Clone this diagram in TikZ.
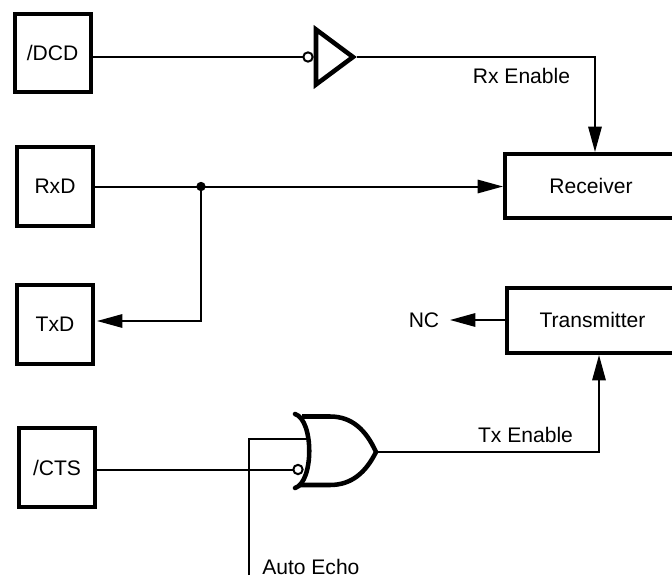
\documentclass[tikz,border=0pt]{standalone}
\usepackage{fontspec}
\setmainfont{Liberation Sans}
\usetikzlibrary{arrows.meta,calc}
\tikzset{
  x=0.75pt,y=-0.75pt,
  blockbox/.style={draw=black,line width=3pt,fill=white,inner sep=0pt,outer sep=0pt,font=\fontsize{15.8}{18}\selectfont,minimum width=57pt,minimum height=59pt},
  openbox/.style={draw=black,line width=3pt},
  wire/.style={draw=black,line width=1.5pt},
  arrowwire/.style={wire,-{Triangle[length=19pt,width=10pt,sep=0pt]}},
  gateline/.style={draw=black,line width=3.4pt},
  bubble/.style={circle,draw=black,line width=1.5pt,fill=white,inner sep=0pt,minimum size=7pt,outer sep=0pt},
  lbl/.style={font=\fontsize{15.8}{18}\selectfont,inner sep=0pt},
  junction/.style={circle,fill=black,inner sep=0pt,minimum size=7pt}
}
\begin{document}
\begin{tikzpicture}
\useasboundingbox (0,0) rectangle (672,578);
% blocks
\node[blockbox] (dcd) at (52.5,53) {/DCD};
\node[blockbox] (rxd) at (55,186.5) {RxD};
\node[blockbox] (txd) at (55,324.5) {TxD};
\node[blockbox] (cts) at (57,467.5) {/CTS};
\draw[openbox] (676,154) -- (505,154) -- (505,218) -- (676,218);
\draw[openbox] (676,288) -- (507,288) -- (507,353) -- (676,353);
\node[lbl] (recv) at (591,186) {Receiver};
\node[lbl] (trans) at (592.5,320) {Transmitter};
\coordinate (recvL) at (503,186.5);
\coordinate (recvT) at (595,152);
\coordinate (transL) at (505,320);
\coordinate (transB) at (599,355);
% labels
\node[lbl] (rxen) at (521.5,76) {Rx Enable};
\node[lbl] (txen) at (525.5,435) {Tx Enable};
\node[lbl] (nc) at (424,320) {NC};
\node[lbl,anchor=west] (echo) at (262,567) {Auto Echo};
% inverter
\draw[gateline,miter limit=10] (316,29.5) -- (353,57) -- (316,84.5) -- cycle;
\coordinate (invout) at (357,57);
\node[bubble] (invb) at (308,57) {};
% or gate
\draw[gateline,line cap=round] (295,414) .. controls (314,420) and (314,482) .. (295,488);
\draw[gateline] (302,416.5) -- (330,416.5) .. controls (352,416.5) and (366,430) .. (376,452) .. controls (366,472) and (352,485) .. (330,485) -- (300,485);
\coordinate (orout) at (377,452);
\coordinate (orin) at (306,439);
\node[bubble] (orb) at (298,469.5) {};
\coordinate (echofree) at (249,575);
\coordinate (dcdout) at (dcd.east |- invb);
% wires
\draw[wire] (dcdout) -- (invb);
\draw[arrowwire] (invout) -| (recvT);
\node[junction] (dot) at (201,186.5) {};
\draw[arrowwire] (rxd.east |- recvL) -- (recvL);
\draw[arrowwire] (dot.center) |- (97,321);
\draw[arrowwire] (transL) -- (450,320);
\draw[wire] (cts.east |- orb) -- (orb);
\draw[wire] (echofree) |- (orin);
\draw[arrowwire] (orout) -| (transB);
\end{tikzpicture}
\end{document}
